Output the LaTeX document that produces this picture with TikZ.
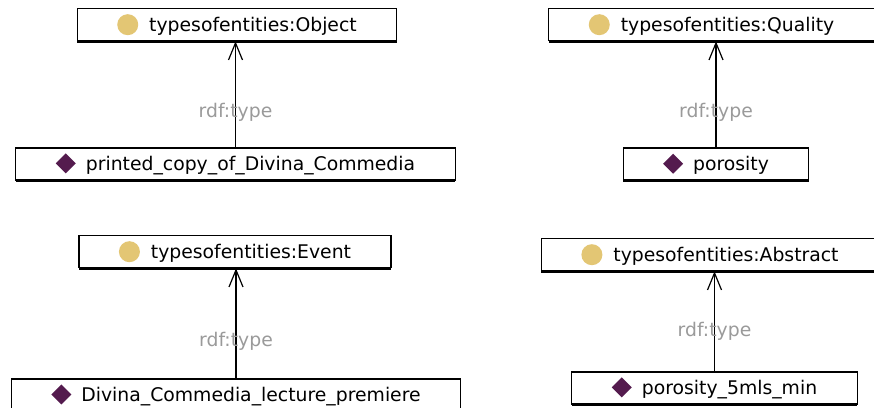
\documentclass[tikz,border=0pt]{standalone}
\usepackage{fontspec}
\setmainfont{DejaVu Sans}
\usetikzlibrary{arrows.meta,positioning,shadows}

\definecolor{clsyellow}{HTML}{E3C674}
\definecolor{indpurple}{HTML}{541B4E}
\definecolor{edgegray}{HTML}{9A9A9A}

% icons in front of the names
\newcommand{\clsicon}{\tikz[baseline=-6.8pt]\fill[clsyellow] (0pt,0pt) circle (10.5pt);\hspace{11pt}}
\newcommand{\indicon}{\tikz[baseline=-6.8pt]\fill[indpurple] (-10pt,0pt) -- (0pt,10pt) -- (10pt,0pt) -- (0pt,-10pt) -- cycle;\hspace{10pt}}

\begin{document}
\begin{tikzpicture}[
  x=1pt, y=1pt,
  font=\fontsize{18.8}{22}\selectfont,
  ent/.style={draw, line width=1.2pt, fill=white, minimum height=32pt, inner xsep=40pt, inner ysep=0pt,
    drop shadow={shadow xshift=0pt, shadow yshift=-1.8pt, fill=black, opacity=1}},
  cls/.style={ent},
  ind/.style={ent},
  typeedge/.style={line width=1.2pt, -{Straight Barb[length=17pt, width=14pt, line width=1.2pt]}},
  edgelbl/.style={text=edgegray, inner sep=0pt},
]
\useasboundingbox (0,0) rectangle (874,-407);

% ---------------- individuals ----------------
\node[ind] (copy) at (235.5,-164) {\indicon printed\_copy\_of\_Divina\_Commedia};
\node[ind] (poro) at (716,-164) {\indicon porosity};
\node[ind] (lect) at (236,-395) {\indicon Divina\_Commedia\_lecture\_premiere};
\node[ind] (poromin) at (714.5,-388) {\indicon porosity\_5mls\_min};

% ---------------- classes ----------------
\node[cls, above=106pt of copy, xshift=1.5pt] (object) {\clsicon typesofentities:Object};
\node[cls, above=106pt of poro, xshift=-4.5pt] (quality) {\clsicon typesofentities:Quality};
\node[cls, above=110pt of lect, xshift=-1pt] (event) {\clsicon typesofentities:Event};
\node[cls, above=100pt of poromin, xshift=-4.5pt] (abstract) {\clsicon typesofentities:Abstract};

% ---------------- rdf:type ----------------
\draw[typeedge] (copy.north) -- (copy.north |- object.south) node[edgelbl, pos=.33] {rdf:type};
\draw[typeedge] (poro.north) -- (poro.north |- quality.south) node[edgelbl, pos=.33] {rdf:type};
\draw[typeedge] (lect.north) -- (lect.north |- event.south) node[edgelbl, pos=.34] {rdf:type};
\draw[typeedge] (poromin.north) -- (poromin.north |- abstract.south) node[edgelbl, pos=.4] {rdf:type};
\end{tikzpicture}
\end{document}
